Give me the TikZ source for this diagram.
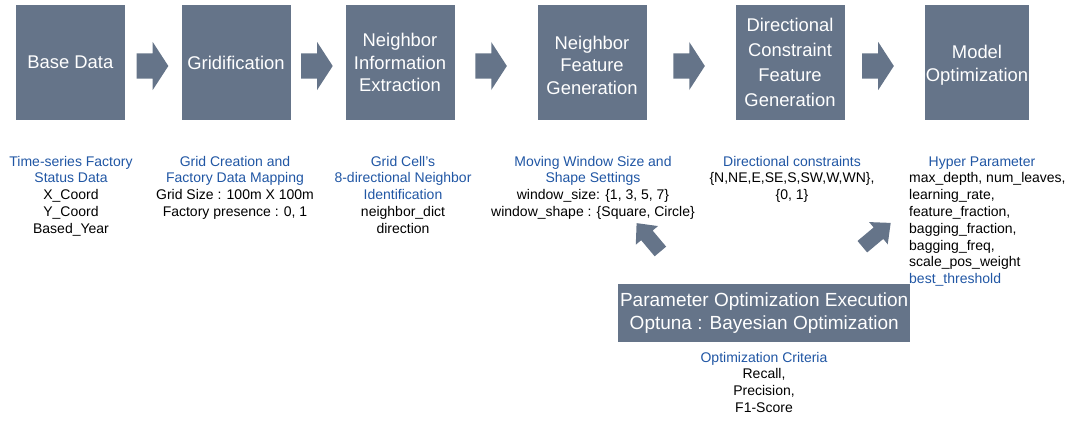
\documentclass[tikz,border=0pt]{standalone}
\usepackage{fontspec}
\setmainfont{Liberation Sans}
\usetikzlibrary{calc}
\definecolor{boxfill}{RGB}{101,116,137}
\definecolor{headblue}{RGB}{32,86,164}

\tikzset{
  stage/.style={fill=boxfill, text=white, minimum width=109pt, minimum height=115pt,
    inner sep=0pt, align=center, font=\fontsize{18.4}{22.5}\selectfont},
  note/.style={anchor=north, inner sep=0pt, align=center, font=\fontsize{14}{16.8}\selectfont},
  notelist/.style={anchor=north west, inner sep=0pt, align=left, font=\fontsize{14}{16.8}\selectfont},
  % horizontal block arrow between two stages
  pics/flowarrow/.style={code={
    \fill[boxfill] (-15.8,-12.5) -- (0.2,-12.5) -- (0.2,-24) -- (15.8,0)
      -- (0.2,24) -- (0.2,12.5) -- (-15.8,12.5) -- cycle;}},
  % smaller block arrow feeding the optimisation results back
  pics/feedarrow/.style={code={
    \fill[boxfill] (-18.5,-7.5) -- (2.5,-7.5) -- (2.5,-14.5) -- (18.5,0)
      -- (2.5,14.5) -- (2.5,7.5) -- (-18.5,7.5) -- cycle;}},
}
% invisible strut that lowers the text block of a stage slightly
\newcommand{\lowerstrut}{\rule{0pt}{19pt}}

\begin{document}
\begin{tikzpicture}[x=1pt, y=-1pt]
\useasboundingbox (0,0) rectangle (1075,420);

% pipeline stages
\node[stage] (b1) at (70.3,62.5) {Base Data};
\node[stage] (b2) at (236,62.5) {Gridification};
\node[stage] (b3) at (400,62.5) {Neighbor\\Information\\Extraction};
\node[stage] (b4) at (592,62.5) {\lowerstrut Neighbor\\Feature\\Generation};
\node[stage, font=\fontsize{18.4}{25}\selectfont] (b5) at (790,62.5) {Directional\\Constraint\\Feature\\Generation};
\node[stage, minimum width=104pt] (b6) at (977,62.5) {\lowerstrut Model\\Optimization};

% arrows between stages
\coordinate (a1) at ($(b1.east)!0.489!(b2.west)+(0,3.5)$);
\coordinate (a2) at ($(b2.east)!0.48!(b3.west)+(0,3.5)$);
\coordinate (a3) at ($(b3.east)!0.44!(b4.west)+(0,3.5)$);
\coordinate (a4) at ($(b4.east)!0.478!(b5.west)+(0,3.5)$);
\coordinate (a5) at ($(b5.east)!0.416!(b6.west)+(0,3.5)$);
\foreach \a in {a1,a2,a3,a4,a5} \pic at (\a) {flowarrow};

% stage descriptions
\node[note] (c1) at (71,154.2) {\strut\textcolor{headblue}{Time-series Factory}\\
  \textcolor{headblue}{Status Data}\\X\_Coord\\Y\_Coord\\Based\_Year};
\node[note] (c2) at (235,154.2) {\strut\textcolor{headblue}{Grid Creation and}\\
  \textcolor{headblue}{Factory Data Mapping}\\Grid Size : 100m X 100m\\Factory presence : 0, 1};
\node[note] (c3) at (403,154.2) {\strut\textcolor{headblue}{Grid Cell’s}\\
  \textcolor{headblue}{8-directional Neighbor}\\\textcolor{headblue}{Identification}\\
  neighbor\_dict\\direction};
\node[note] (c4) at (593,154.2) {\strut\textcolor{headblue}{Moving Window Size and}\\
  \textcolor{headblue}{Shape Settings}\\window\_size: \{1, 3, 5, 7\}\\
  window\_shape : \{Square, Circle\}};
\node[note] (c5) at (792,154.2) {\strut\textcolor{headblue}{Directional constraints}\\
  \{N,NE,E,SE,S,SW,W,WN\},\\\{0, 1\}};
\node[note] (c6h) at (982,154.2) {\strut\textcolor{headblue}{Hyper Parameter}};
\node[notelist] (c6) at (909,171) {\strut max\_depth, num\_leaves,\\learning\_rate,\\
  feature\_fraction,\\bagging\_fraction,\\bagging\_freq,\\scale\_pos\_weight\\
  \textcolor{headblue}{best\_threshold}};

% optimisation step
\node[fill=boxfill, text=white, minimum width=291.7pt, minimum height=57.4pt, inner sep=0pt,
  align=center, font=\fontsize{19}{23.3}\selectfont] (opt) at (764.2,313)
  {Parameter Optimization Execution\\Optuna : Bayesian Optimization};
\node[note] (crit) at (764,350.2) {\strut\textcolor{headblue}{Optimization Criteria}\\
  Recall,\\Precision,\\F1-Score};

% feedback arrows from the optimisation step
\coordinate (f1) at ($(opt.north)+(-115.7,-46.8)$);
\coordinate (f2) at ($(opt.north)+(112.3,-49.3)$);
\pic[rotate=130] at (f1) {feedarrow};
\pic[rotate=40] at (f2) {feedarrow};
\end{tikzpicture}
\end{document}
